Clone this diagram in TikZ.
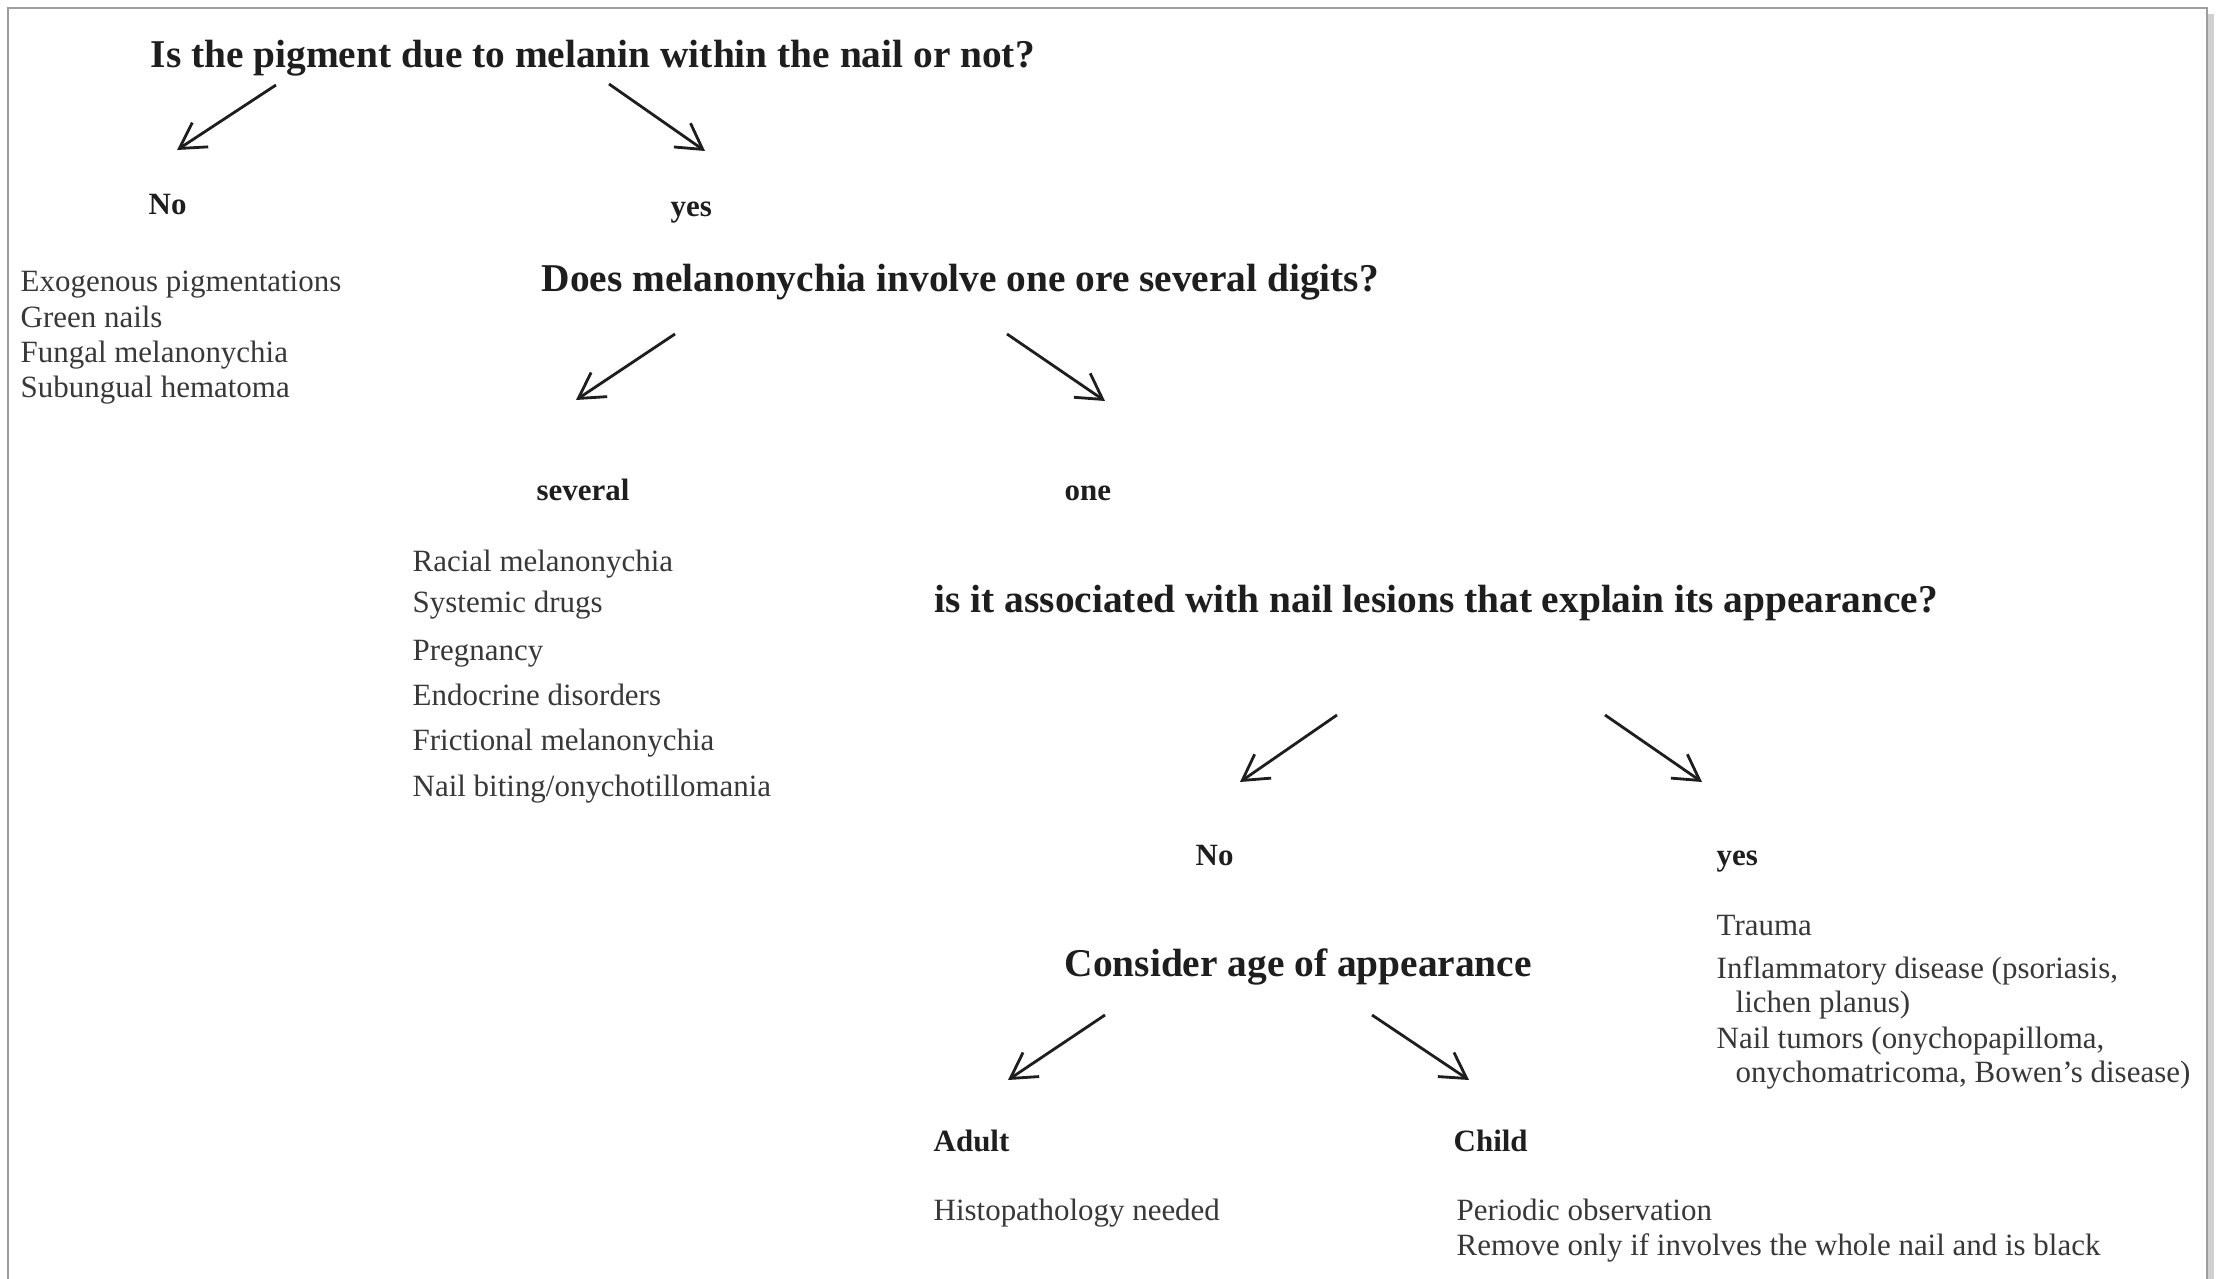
\documentclass[tikz,border=0pt]{standalone}
\usepackage{fontspec}
\setmainfont{Liberation Serif}
\usepackage{xcolor}
\usepackage{tikz}
\usetikzlibrary{arrows.meta}
\usetikzlibrary{positioning}
\definecolor{inkdark}{HTML}{1E1E1E}
\definecolor{inkbody}{HTML}{383838}
\definecolor{framegray}{HTML}{9E9E9E}
\definecolor{shadowgray}{HTML}{D0D0D0}
\tikzset{question/.style={font=\bfseries\fontsize{11.2}{13}\selectfont, text=inkdark, anchor=base west, inner sep=0pt}}
\tikzset{answer/.style={font=\bfseries\fontsize{8.8}{10}\selectfont, text=inkdark, anchor=base west, inner sep=0pt}}
\tikzset{item/.style={font=\fontsize{8.8}{10}\selectfont, text=inkbody, anchor=base west, inner sep=0pt}}
\tikzset{arr/.style={draw=inkdark, line width=0.8pt, -{Straight Barb[length=2.5mm,width=2.9mm,line width=0.8pt]}}}

\begin{document}
\begin{tikzpicture}[x=0.01cm, y=-0.01cm]
		\useasboundingbox (0,0) rectangle (2226,1279);
		\fill[white] (0,0) rectangle (2226,1279);
		\draw[shadowgray, line width=2.5pt] (2210,14) -- (2210,1279);
		\draw[framegray, line width=0.6pt] (8,1279) |- (2207,8) -- (2207,1279);
		
		% first question
		\node[question] (q1) at (150,68) {Is the pigment due to melanin within the nail or not?};
		\node[answer] (q1no) at (148,215) {No};
		\node[answer] (q1yes) at (670,217) {yes};
		\node[item] (ex1) at (20,292) {Exogenous pigmentations};
		\node[item] (ex2) at (20,328) {Green nails};
		\node[item] (ex3) at (20,363) {Fungal melanonychia};
		\node[item] (ex4) at (20,398) {Subungual hematoma};
		
		% second question
		\node[question] (q2) at (541,292) {Does melanonychia involve one ore several digits?};
		\node[answer] (several) at (536,500) {several};
		\node[answer] (one) at (1064,500) {one};
		\node[item] (sv1) at (412,571) {Racial melanonychia};
		\node[item] (sv2) at (412,612) {Systemic drugs};
		\node[item] (sv3) at (412,660) {Pregnancy};
		\node[item] (sv4) at (412,705) {Endocrine disorders};
		\node[item] (sv5) at (412,750) {Frictional melanonychia};
		\node[item] (sv6) at (412,796) {Nail biting/onychotillomania};
		
		% third question
		\node[question] (q3) at (934,612) {is it associated with nail lesions that explain its appearance?};
		\node[answer] (q3no) at (1195,865) {No};
		\node[answer] (q3yes) at (1716,865) {yes};
		\node[item] (ye1) at (1716,935) {Trauma};
		\node[item] (ye2) at (1716,978) {Inflammatory disease (psoriasis,};
		\node[item] (ye3) at (1735,1012) {lichen planus)};
		\node[item] (ye4) at (1716,1048) {Nail tumors (onychopapilloma,};
		\node[item] (ye5) at (1735,1082) {onychomatricoma, Bowen's disease)};
		
		% age
		\node[question] (q4) at (1064,976) {Consider age of appearance};
		\node[answer] (adult) at (933,1151) {Adult};
		\node[answer] (child) at (1453,1151) {Child};
		\node[item] (ad1) at (933,1220) {Histopathology needed};
		\node[item] (ch1) at (1456,1220) {Periodic observation};
		\node[item] (ch2) at (1456,1255) {Remove only if involves the whole nail and is black};
		
		% arrow ends
		\coordinate (a1s) at (276,85);   \coordinate (a1t) at (177,150);
		\coordinate (a2s) at (609,84);   \coordinate (a2t) at (705,151);
		\coordinate (a3s) at (675,334);  \coordinate (a3t) at (576,400);
		\coordinate (a4s) at (1007,334); \coordinate (a4t) at (1105,401);
		\coordinate (a5s) at (1337,715); \coordinate (a5t) at (1240,782);
		\coordinate (a6s) at (1605,715); \coordinate (a6t) at (1702,782);
		\coordinate (a7s) at (1105,1015); \coordinate (a7t) at (1008,1080);
		\coordinate (a8s) at (1372,1015); \coordinate (a8t) at (1469,1080);
		
		\draw[arr] (a1s) -- (a1t);
		\draw[arr] (a2s) -- (a2t);
		\draw[arr] (a3s) -- (a3t);
		\draw[arr] (a4s) -- (a4t);
		\draw[arr] (a5s) -- (a5t);
		\draw[arr] (a6s) -- (a6t);
		\draw[arr] (a7s) -- (a7t);
		\draw[arr] (a8s) -- (a8t);
	\end{tikzpicture}
\end{document}
